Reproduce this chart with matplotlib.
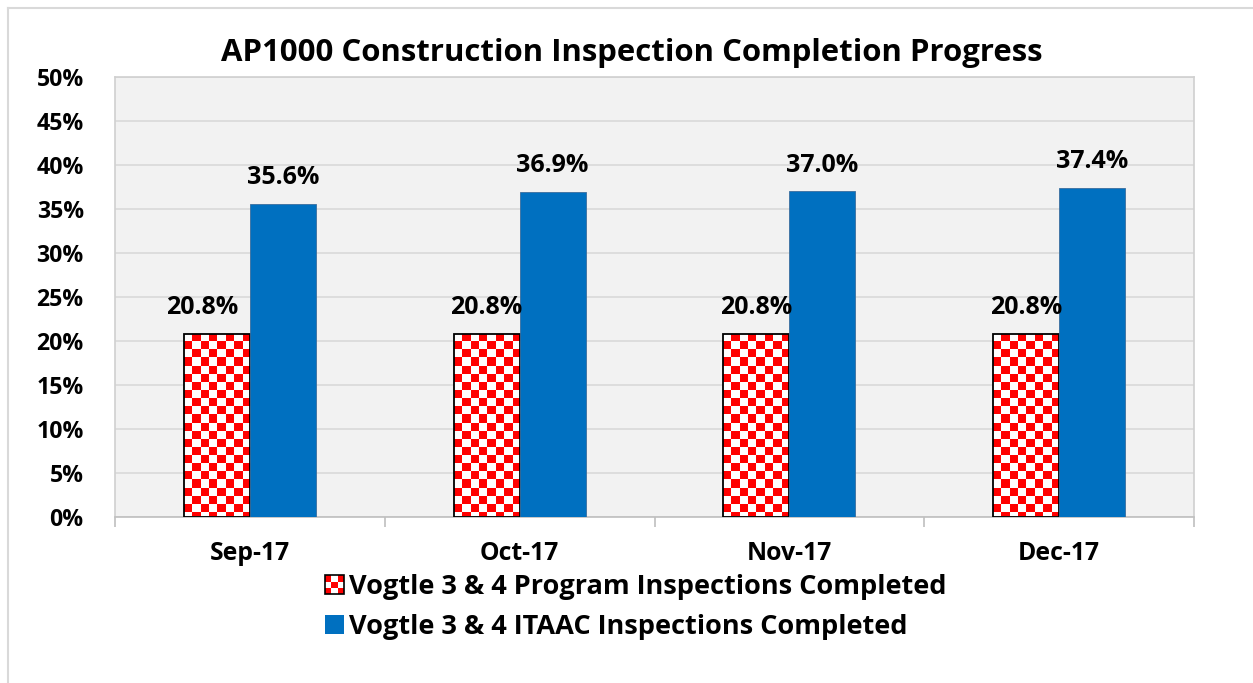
import matplotlib
matplotlib.use('Agg')
import matplotlib.pyplot as plt
import numpy as np
from matplotlib.colors import ListedColormap
from matplotlib.patches import Rectangle
from matplotlib.lines import Line2D
from matplotlib.legend_handler import HandlerBase

months = ['Sep-17', 'Oct-17', 'Nov-17', 'Dec-17']
program_pct = [20.8, 20.8, 20.8, 20.8]
itaac_pct = [35.6, 36.9, 37.0, 37.4]
labels = ['Vogtle 3 & 4 Program Inspections Completed',
          'Vogtle 3 & 4 ITAAC Inspections Completed']
title = 'AP1000 Construction Inspection Completion Progress'

plt.rcParams['font.family'] = ['Open Sans', 'DejaVu Sans']
plt.rcParams['font.weight'] = 'bold'

blue = '#0070C0'
checker_cmap = ListedColormap(['white', '#FF0000'])


class HandlerChecker(HandlerBase):
    # small 3x3 checkerboard for the legend key
    def create_artists(self, legend, orig_handle, xdescent, ydescent,
                       width, height, fontsize, trans):
        s = min(width, height)
        x0 = -xdescent + (width - s) / 2
        y0 = -ydescent
        c = s / 3
        arts = []
        for i in range(3):
            for j in range(3):
                col = '#FF0000' if (i + j) % 2 == 0 else 'white'
                arts.append(Rectangle((x0 + j * c, y0 + i * c), c, c,
                                      facecolor=col, edgecolor='none', transform=trans))
        arts.append(Rectangle((x0, y0), s, s, facecolor='none', edgecolor='black',
                              lw=1.2, transform=trans))
        return arts


class HandlerSquare(HandlerBase):
    def create_artists(self, legend, orig_handle, xdescent, ydescent,
                       width, height, fontsize, trans):
        s = min(width, height)
        x0 = -xdescent + (width - s) / 2
        return [Rectangle((x0, -ydescent), s, s, facecolor=blue, edgecolor='none',
                          transform=trans)]


fig = plt.figure(figsize=(12.53, 6.83), dpi=100)
ax = fig.add_axes([115 / 1253, 1 - 517 / 683, 1079 / 1253, 440 / 683])
ax.set_facecolor('#F2F2F2')

x = np.arange(len(months))
w = 0.245
red_bars = ax.bar(x - w / 2, program_pct, w, color='none', edgecolor='black', lw=1.3, zorder=3)
blue_bars = ax.bar(x + w / 2, itaac_pct, w, color=blue, edgecolor='#3A6E9E', lw=0.6, zorder=3)

# checkerboard fill clipped to each red bar
cell = 0.92
for b in red_bars:
    bx, bw, bh = b.get_x(), b.get_width(), b.get_height()
    ny = int(np.ceil(bh / cell))
    img = np.add.outer(np.arange(ny), np.arange(8)) % 2
    im = ax.imshow(img, cmap=checker_cmap, extent=[bx, bx + bw, bh - ny * cell, bh],
                   origin='upper', aspect='auto', interpolation='nearest', zorder=2)
    im.set_clip_path(b)

# the first program label sits a little left of its bar in the original
red_dx = [-0.055, 0, 0, 0]
for b, v, dx in zip(red_bars, program_pct, red_dx):
    ax.text(b.get_x() + b.get_width() / 2 + dx, v + 3.0, f'{v:.1f}%', ha='center',
            va='center', fontsize=18, fontweight='bold', zorder=4)
for b, v in zip(blue_bars, itaac_pct):
    ax.text(b.get_x() + b.get_width() / 2, v + 3.0, f'{v:.1f}%', ha='center',
            va='center', fontsize=18, fontweight='bold', zorder=4)

ax.set_xlim(-0.5, len(months) - 0.5)
ax.set_ylim(0, 50)
ax.set_yticks(np.arange(0, 51, 5))
ax.set_yticklabels([f'{t}%' for t in range(0, 51, 5)], fontsize=16.7, fontweight='bold')
ax.yaxis.grid(True, color='#D9D9D9', lw=1.2, zorder=0)
ax.set_axisbelow(True)
ax.tick_params(axis='y', length=0, pad=22.5)

ax.set_xticks(x)
ax.set_xticklabels(months, fontsize=17.8, fontweight='bold')
ax.tick_params(axis='x', length=0, pad=17)
ax.set_xticks(np.arange(-0.5, len(months)), minor=True)
ax.tick_params(axis='x', which='minor', length=7, color='#BFBFBF', width=1.2)

for side in ['top', 'left', 'right']:
    ax.spines[side].set_color('#D0D0D0')
    ax.spines[side].set_linewidth(1.2)
ax.spines['bottom'].set_color('#BFBFBF')
ax.spines['bottom'].set_linewidth(1.2)

fig.text(632 / 1253, 1 - 53 / 683, title, ha='center', va='center', fontsize=22.4,
         fontweight='bold')

h1 = Rectangle((0, 0), 1, 1)
h2 = Rectangle((0, 0), 1, 1)
fig.legend([h1, h2], labels, handler_map={h1: HandlerChecker(), h2: HandlerSquare()},
           loc='center left', bbox_to_anchor=(325 / 1253, 1 - 607 / 683), frameon=False,
           prop={'size': 19.5, 'weight': 'bold'}, handlelength=0.7, handleheight=0.7,
           handletextpad=0.2, labelspacing=0.5, borderpad=0, borderaxespad=0)

# outer chart border
fig.add_artist(Line2D([8 / 1253, 1], [1 - 8 / 683, 1 - 8 / 683], color='#D9D9D9', lw=1.5,
                      transform=fig.transFigure))
fig.add_artist(Line2D([8 / 1253, 8 / 1253], [0, 1 - 8 / 683], color='#D9D9D9', lw=1.5,
                      transform=fig.transFigure))

fig.savefig('out.png', dpi=100)
